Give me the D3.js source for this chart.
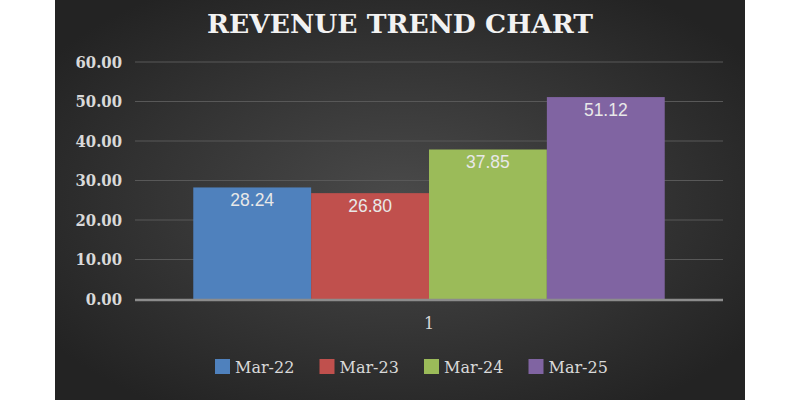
<!DOCTYPE html>
<html><head><meta charset="utf-8">
<script src="https://cdn.jsdelivr.net/npm/d3@7"></script>
<style>html,body{margin:0;padding:0;background:#fff;}svg{display:block;}</style>
</head><body>
<svg id="chart" width="800" height="400"></svg>
<script>
const title = "REVENUE TREND CHART";
const categories = ["1"];
const series = ["Mar-22", "Mar-23", "Mar-24", "Mar-25"];
const values = [28.24, 26.80, 37.85, 51.12];
const yTicks = [0, 10, 20, 30, 40, 50, 60];
const colors = ["#4f81bd", "#c0504d", "#9bbb59", "#8064a2"];

const svg = d3.select("#chart");
const defs = svg.append("defs");
const grad = defs.append("radialGradient").attr("id", "bg")
  .attr("cx", "50%").attr("cy", "50%").attr("r", "62%");
grad.append("stop").attr("offset", "0%").attr("stop-color", "#4a4a4a");
grad.append("stop").attr("offset", "100%").attr("stop-color", "#232323");

svg.append("rect").attr("x", 55).attr("y", 0).attr("width", 690).attr("height", 400)
  .attr("fill", "url(#bg)");

const plot = {left: 135, right: 723, top: 62, bottom: 299};
const y = d3.scaleLinear().domain([0, 60]).range([plot.bottom, plot.top]);
const x0 = d3.scaleBand().domain(categories).range([plot.left, plot.right])
  .paddingInner(0.11).paddingOuter(0.11);
const x1 = d3.scaleBand().domain(series).range([0, x0.bandwidth()]).padding(0);
const color = d3.scaleOrdinal().domain(series).range(colors);

// gridlines
svg.append("g").selectAll("line").data(yTicks.filter(d => d > 0)).join("line")
  .attr("x1", plot.left).attr("x2", plot.right)
  .attr("y1", d => y(d)).attr("y2", d => y(d))
  .attr("stroke", "#585858").attr("stroke-width", 1);

// y axis labels
const yAxis = d3.axisLeft(y).tickValues(yTicks).tickFormat(d3.format(".2f")).tickSize(0).tickPadding(0);
const yg = svg.append("g").attr("transform", `translate(122,0)`).call(yAxis);
yg.select(".domain").remove();
yg.selectAll("text").attr("fill", "#d9d9d9")
  .style("font-family", "'DejaVu Serif Condensed', 'DejaVu Serif', serif").style("font-stretch", "condensed")
  .style("font-weight", "bold").style("font-size", "16.5px");

// bars
const groups = svg.append("g").selectAll("g").data(categories).join("g")
  .attr("transform", d => `translate(${x0(d)},0)`);
const barData = series.map((s, i) => ({s, v: values[i]}));
groups.selectAll("rect").data(barData).join("rect")
  .attr("x", d => x1(d.s)).attr("width", x1.bandwidth())
  .attr("y", d => y(d.v)).attr("height", d => y(0) - y(d.v))
  .attr("fill", d => color(d.s));
groups.selectAll("text").data(barData).join("text")
  .attr("x", d => x1(d.s) + x1.bandwidth() / 2)
  .attr("y", d => y(d.v) + 19)
  .attr("text-anchor", "middle")
  .attr("fill", "#e8e8e8")
  .style("font-family", "'Liberation Sans', sans-serif").style("font-size", "17.5px")
  .text(d => d.v.toFixed(2));

// x axis
const xAxis = d3.axisBottom(x0).tickSize(0).tickPadding(0);
const xg = svg.append("g").attr("transform", `translate(0,${plot.bottom})`).call(xAxis);
xg.select(".domain").remove();
xg.selectAll("text").attr("y", 30).attr("dy", 0).attr("fill", "#d9d9d9")
  .style("font-family", "'DejaVu Serif', serif").style("font-size", "16px");
svg.append("line").attr("x1", plot.left).attr("x2", plot.right)
  .attr("y1", y(0) + 1).attr("y2", y(0) + 1)
  .attr("stroke", "#8c8c8c").attr("stroke-width", 2.5);

// title
svg.append("text").attr("x", 400).attr("y", 33).attr("text-anchor", "middle")
  .attr("fill", "#f2f2f2")
  .style("font-family", "'DejaVu Serif', serif").style("font-weight", "bold").style("font-size", "26.5px")
  .text(title);

// legend
const legend = svg.append("g").selectAll("g").data(series).join("g")
  .attr("transform", (d, i) => `translate(${215 + i * 104.5},359)`);
legend.append("rect").attr("width", 15).attr("height", 15).attr("fill", d => color(d));
legend.append("text").attr("x", 20).attr("y", 13.5).attr("fill", "#d9d9d9")
  .style("font-family", "'DejaVu Serif', serif").style("font-size", "16px")
  .text(d => d);
</script>
</body></html>
